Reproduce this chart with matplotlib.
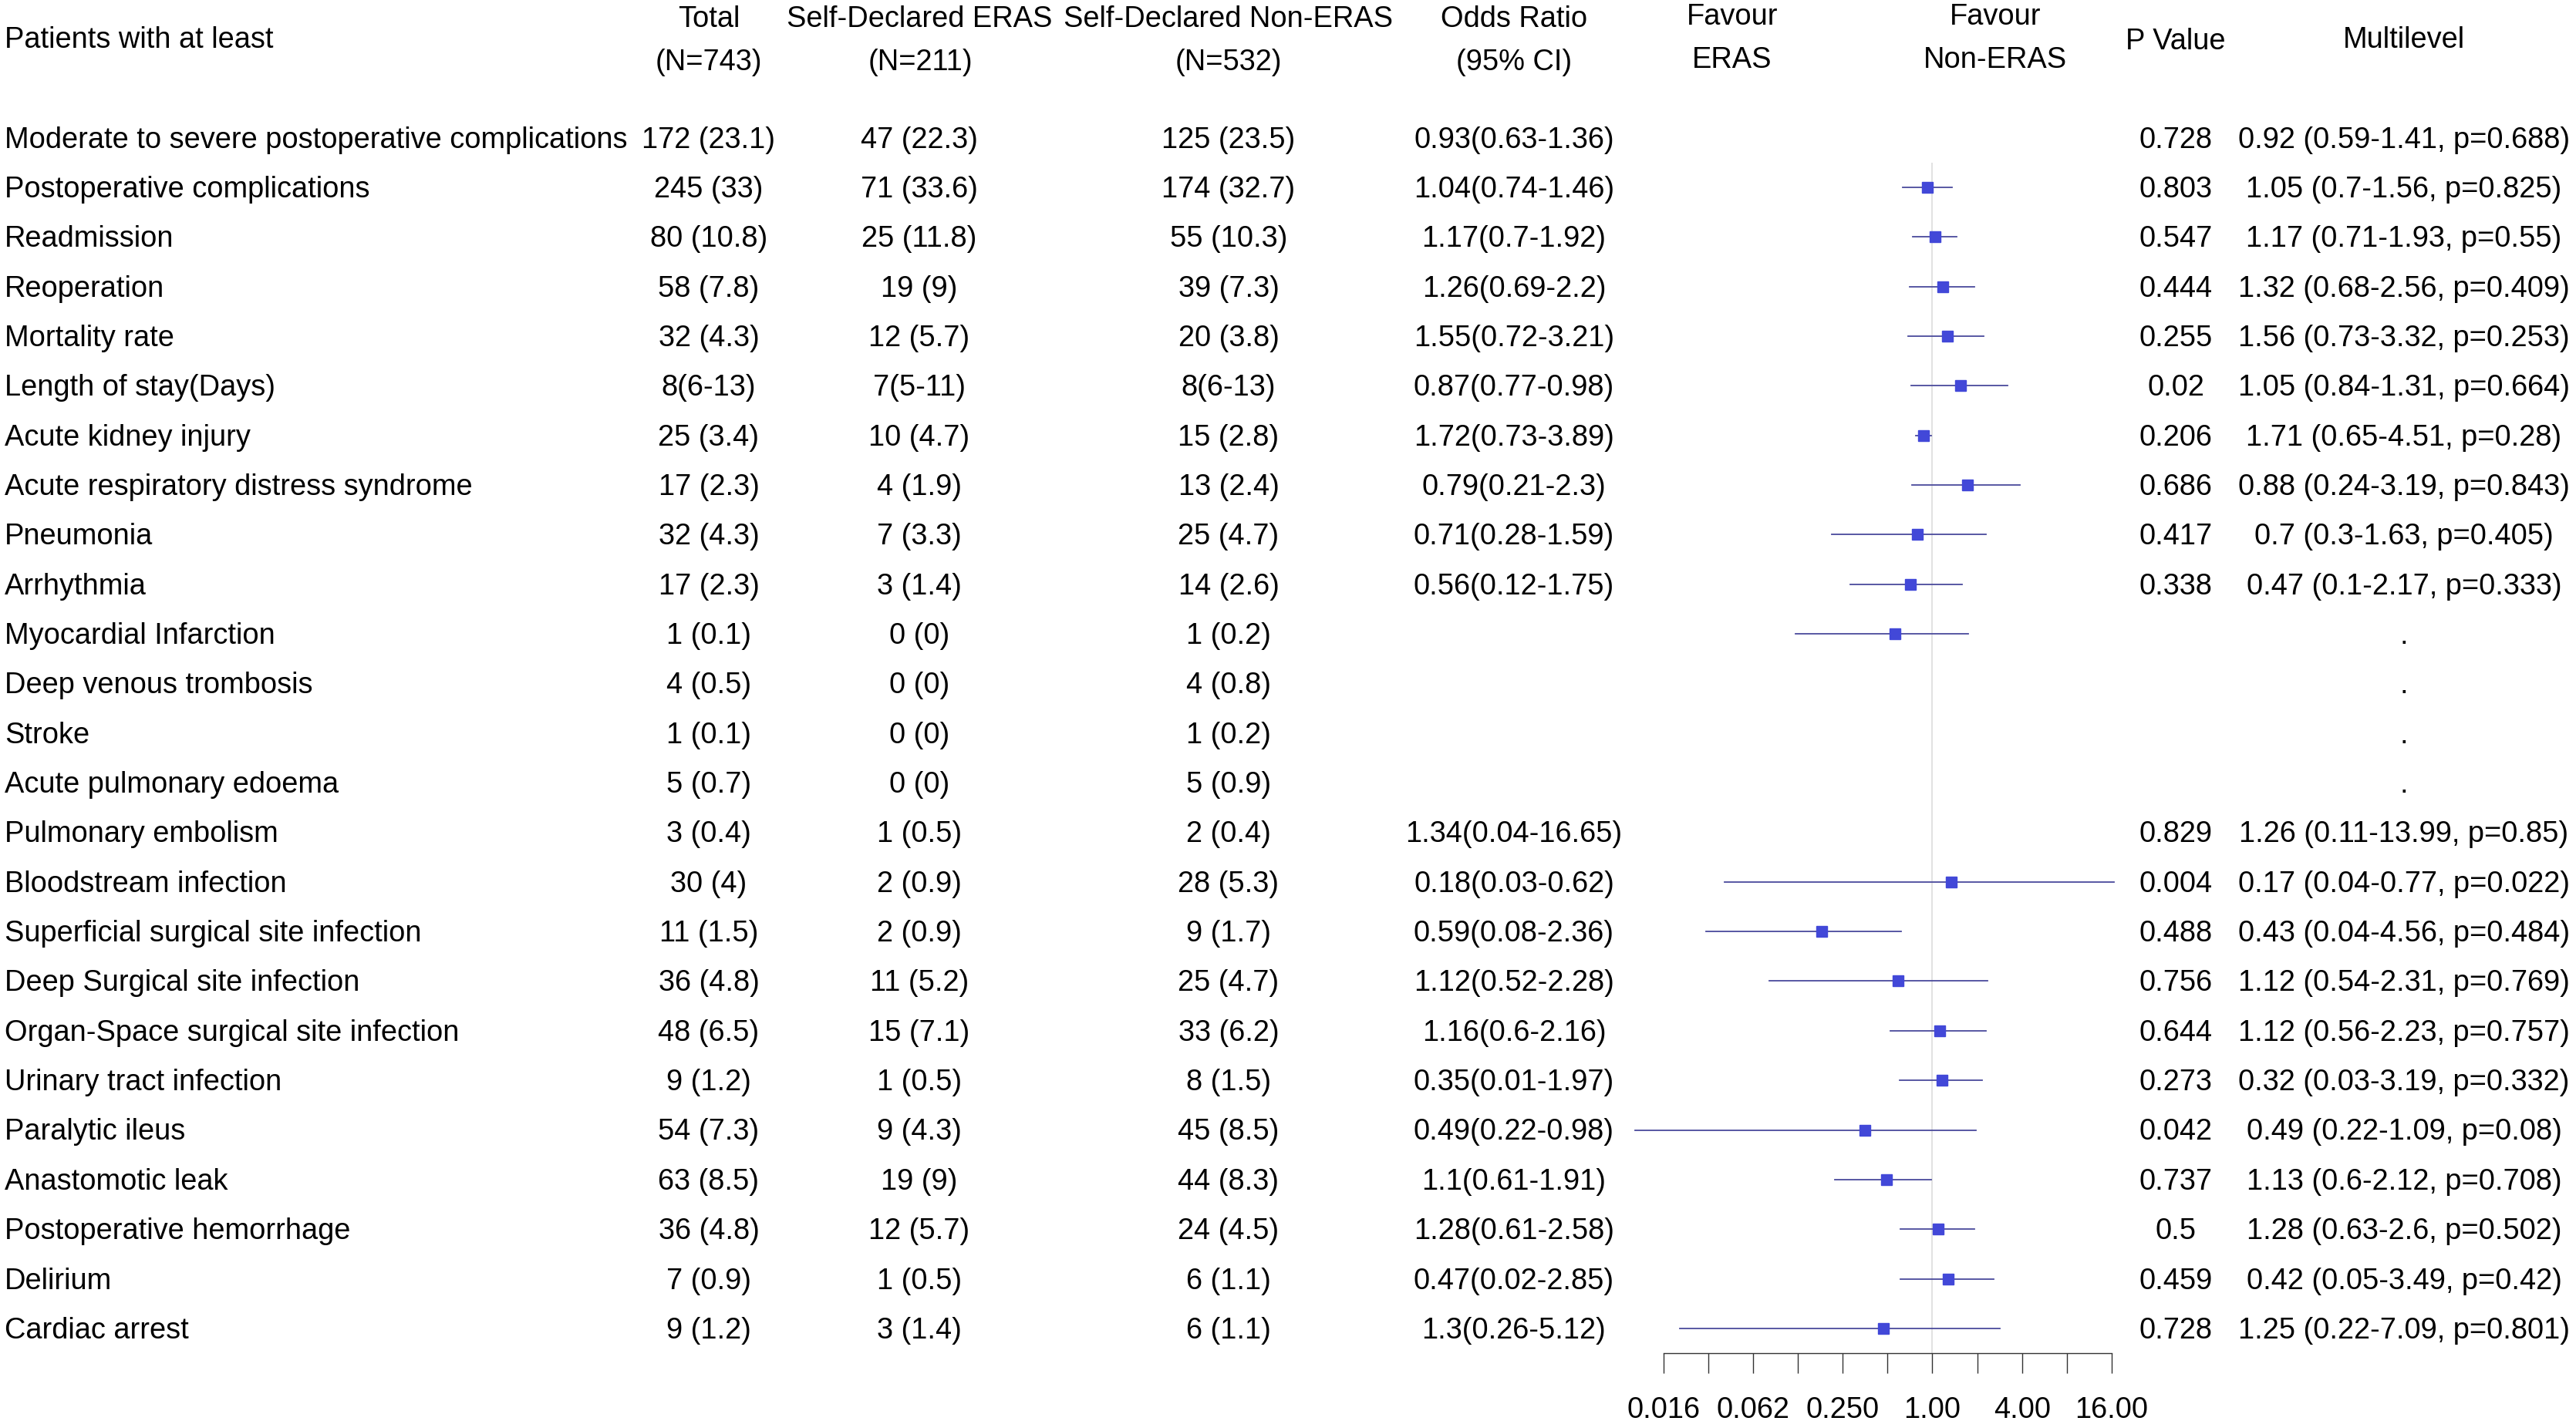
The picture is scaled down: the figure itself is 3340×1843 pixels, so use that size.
import numpy as np
import matplotlib.pyplot as plt

plt.rcParams['font.family'] = ['Liberation Sans', 'DejaVu Sans']

# данные таблицы
outcomes = ['Moderate to severe postoperative complications', 'Postoperative complications',
            'Readmission', 'Reoperation', 'Mortality rate', 'Length of stay(Days)',
            'Acute kidney injury', 'Acute respiratory distress syndrome', 'Pneumonia',
            'Arrhythmia', 'Myocardial Infarction', 'Deep venous trombosis', 'Stroke',
            'Acute pulmonary edoema', 'Pulmonary embolism', 'Bloodstream infection',
            'Superficial surgical site infection', 'Deep Surgical site infection',
            'Organ-Space surgical site infection', 'Urinary tract infection',
            'Paralytic ileus', 'Anastomotic leak', 'Postoperative hemorrhage',
            'Delirium', 'Cardiac arrest']
total = ['172 (23.1)', '245 (33)', '80 (10.8)', '58 (7.8)', '32 (4.3)', '8(6-13)',
         '25 (3.4)', '17 (2.3)', '32 (4.3)', '17 (2.3)', '1 (0.1)', '4 (0.5)', '1 (0.1)',
         '5 (0.7)', '3 (0.4)', '30 (4)', '11 (1.5)', '36 (4.8)', '48 (6.5)', '9 (1.2)',
         '54 (7.3)', '63 (8.5)', '36 (4.8)', '7 (0.9)', '9 (1.2)']
eras = ['47 (22.3)', '71 (33.6)', '25 (11.8)', '19 (9)', '12 (5.7)', '7(5-11)',
        '10 (4.7)', '4 (1.9)', '7 (3.3)', '3 (1.4)', '0 (0)', '0 (0)', '0 (0)', '0 (0)',
        '1 (0.5)', '2 (0.9)', '2 (0.9)', '11 (5.2)', '15 (7.1)', '1 (0.5)', '9 (4.3)',
        '19 (9)', '12 (5.7)', '1 (0.5)', '3 (1.4)']
non_eras = ['125 (23.5)', '174 (32.7)', '55 (10.3)', '39 (7.3)', '20 (3.8)', '8(6-13)',
            '15 (2.8)', '13 (2.4)', '25 (4.7)', '14 (2.6)', '1 (0.2)', '4 (0.8)', '1 (0.2)',
            '5 (0.9)', '2 (0.4)', '28 (5.3)', '9 (1.7)', '25 (4.7)', '33 (6.2)', '8 (1.5)',
            '45 (8.5)', '44 (8.3)', '24 (4.5)', '6 (1.1)', '6 (1.1)']

# odds ratio и 95% CI (nan = нет оценки)
nan = np.nan
or_est = [0.93, 1.04, 1.17, 1.26, 1.55, 0.87, 1.72, 0.79, 0.71, 0.56, nan, nan, nan, nan,
          1.34, 0.18, 0.59, 1.12, 1.16, 0.35, 0.49, 1.1, 1.28, 0.47, 1.3]
or_lo = [0.63, 0.74, 0.7, 0.69, 0.72, 0.77, 0.73, 0.21, 0.28, 0.12, nan, nan, nan, nan,
         0.04, 0.03, 0.08, 0.52, 0.6, 0.01, 0.22, 0.61, 0.61, 0.02, 0.26]
or_hi = [1.36, 1.46, 1.92, 2.2, 3.21, 0.98, 3.89, 2.3, 1.59, 1.75, nan, nan, nan, nan,
         16.65, 0.62, 2.36, 2.28, 2.16, 1.97, 0.98, 1.91, 2.58, 2.85, 5.12]
p_values = ['0.728', '0.803', '0.547', '0.444', '0.255', '0.02', '0.206', '0.686', '0.417',
            '0.338', '', '', '', '', '0.829', '0.004', '0.488', '0.756', '0.644', '0.273',
            '0.042', '0.737', '0.5', '0.459', '0.728']
multilevel = ['0.92 (0.59-1.41, p=0.688)', '1.05 (0.7-1.56, p=0.825)', '1.17 (0.71-1.93, p=0.55)',
              '1.32 (0.68-2.56, p=0.409)', '1.56 (0.73-3.32, p=0.253)', '1.05 (0.84-1.31, p=0.664)',
              '1.71 (0.65-4.51, p=0.28)', '0.88 (0.24-3.19, p=0.843)', '0.7 (0.3-1.63, p=0.405)',
              '0.47 (0.1-2.17, p=0.333)', '.', '.', '.', '.', '1.26 (0.11-13.99, p=0.85)',
              '0.17 (0.04-0.77, p=0.022)', '0.43 (0.04-4.56, p=0.484)', '1.12 (0.54-2.31, p=0.769)',
              '1.12 (0.56-2.23, p=0.757)', '0.32 (0.03-3.19, p=0.332)', '0.49 (0.22-1.09, p=0.08)',
              '1.13 (0.6-2.12, p=0.708)', '1.28 (0.63-2.6, p=0.502)', '0.42 (0.05-3.49, p=0.42)',
              '1.25 (0.22-7.09, p=0.801)']

tick_vals = [2.0 ** k for k in range(-6, 5)]
tick_labels = ['0.016', '', '0.062', '', '0.250', '', '1.00', '', '4.00', '', '16.00']

W, H = 3341, 1843
fs = 27.4
row0, step = 178.5, 64.35
n = len(outcomes)

fig = plt.figure(figsize=(W / 100, H / 100), dpi=100)

# таблица в пиксельных координатах
ax = fig.add_axes([0, 0, 1, 1])
ax.set_xlim(0, W)
ax.set_ylim(H, 0)
ax.axis('off')

def put(x, y, s, ha='center'):
    ax.text(x, y + 13, s, ha=ha, va='baseline', fontsize=fs, color='black')

# шапка
put(6, 49, 'Patients with at least', ha='left')
put(919, 22, 'Total')
put(919, 78, '(N=743)')
put(1192, 22, 'Self-Declared ERAS')
put(1193, 78, '(N=211)')
put(1593, 22, 'Self-Declared Non-ERAS')
put(1593, 78, '(N=532)')
put(1963, 22, 'Odds Ratio')
put(1963, 78, '(95% CI)')
put(2246, 19, 'Favour')
put(2246, 75, 'ERAS')
put(2587, 19, 'Favour')
put(2587, 75, 'Non-ERAS')
put(2821, 51, 'P Value')
put(3117, 49, 'Multilevel')

for i in range(n):
    y = row0 + i * step
    put(6, y, outcomes[i], ha='left')
    put(919, y, total[i])
    put(1192, y, eras[i])
    put(1593, y, non_eras[i])
    if not np.isnan(or_est[i]):
        put(1963, y, f'{or_est[i]:g}({or_lo[i]:g}-{or_hi[i]:g})')
    put(2821, y, p_values[i])
    put(3117, y, multilevel[i])

# forest plot, лог-шкала по основанию 2
left = 2157 / W
width = (2737.8 - 2157) / W
top_px = row0 + 0.5 * step
bot_px = row0 + (n - 0.5) * step
axf = fig.add_axes([left, 1 - bot_px / H, width, (bot_px - top_px) / H])
axf.patch.set_alpha(0)
axf.set_xscale('log', base=2)
axf.set_xlim(tick_vals[0], tick_vals[-1])
axf.set_ylim(n - 0.5, 0.5)
for s in ['top', 'left', 'right']:
    axf.spines[s].set_visible(False)
axf.spines['bottom'].set_color('#333333')
axf.spines['bottom'].set_linewidth(1.0)
axf.set_yticks([])
axf.set_xticks(tick_vals)
axf.set_xticklabels(tick_labels)
axf.xaxis.set_minor_locator(plt.NullLocator())
axf.tick_params(axis='x', length=19, width=1.0, color='#333333', pad=21, labelsize=fs)

axf.axvline(1, color='#dcdcdc', lw=1.2, zorder=1)

# в оригинале маркеры сдвинуты на одну строку вниз
for i in range(n):
    row = i + 1
    if row > n - 1 or np.isnan(or_est[i]):
        continue
    axf.plot([or_lo[i], or_hi[i]], [row, row], color='#4a4a9c', lw=1.3, clip_on=False, zorder=2)
    axf.plot(or_est[i], row, marker='s', markersize=9.6, color='#4248d8', clip_on=False, zorder=3)

fig.savefig('out.png', dpi=100)
